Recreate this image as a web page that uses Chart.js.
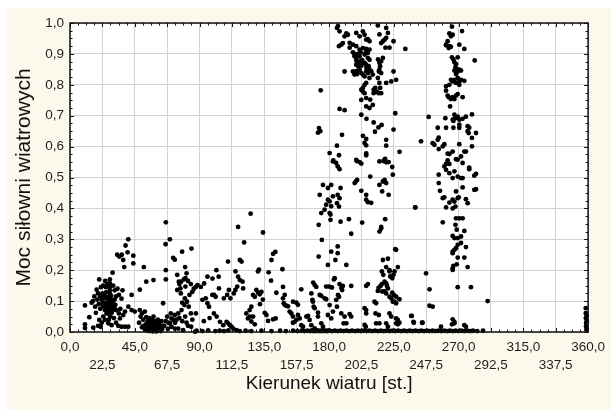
<!DOCTYPE html>
<html>
<head>
<meta charset="utf-8">
<script src="https://cdn.jsdelivr.net/npm/chart.js@4.4.1/dist/chart.umd.min.js"></script>
<style>
  html, body { margin: 0; padding: 0; background: #ffffff; }
  canvas { display: block; }
</style>
</head>
<body>
<canvas id="c" width="611" height="410"></canvas>
<script>
// ---- Data: [wind direction (deg), wind farm power (p.u.)] ----
const xTickValues = [0, 22.5, 45, 67.5, 90, 112.5, 135, 157.5, 180, 202.5, 225, 247.5, 270, 292.5, 315, 337.5, 360];
const yTickValues = [0, 0.1, 0.2, 0.3, 0.4, 0.5, 0.6, 0.7, 0.8, 0.9, 1.0];

const northEast = [
  [10.4,0.086],[10.4,0.025],[10.4,0.013],[13.4,0.048],[16.2,0.014],[16,0.100],[16.9,0.115],[18.5,0.137],[20.3,0.170],[23,0.150],
  [22,0.104],[22.7,0.093],[23.1,0.083],[24.3,0.071],[25.4,0.060],[27.7,0.170],[27.7,0.157],[27.7,0.146],[27.7,0.135],[27.7,0.124],
  [27.7,0.113],[27.7,0.103],[27.7,0.092],[27.7,0.081],[27.7,0.070],[25.4,0.113],[26.6,0.093],[28.9,0.082],[30,0.102],[30,0.071],
  [26.6,0.060],[23.1,0.050],[24.3,0.039],[29.6,0.192],[20.3,0.039],[21.3,0.017],[26.6,0.028],[28.9,0.022],[32.8,0.250],[34.2,0.244],
  [36,0.250],[37,0.233],[37.7,0.210],[40.5,0.300],[38.6,0.280],[40,0.258],[44,0.247],[44,0.222],[36.5,0.135],[35.8,0.108],
  [42.8,0.120],[40.5,0.082],[42.8,0.071],[45,0.066],[48.5,0.071],[52,0.066],[38.2,0.066],[37,0.055],[34.7,0.044],[35.8,0.017],
  [38.2,0.017],[40.5,0.017],[24,0.12],[25,0.128],[26,0.108],[28.5,0.118],[29,0.105],[29.5,0.094],[30.5,0.085],[31,0.078],
  [29,0.062],[31.5,0.088],[19,0.105],[20,0.09],[21,0.075],[18,0.062],[17.5,0.082],[15,0.095],[19.5,0.02],[22,0.03],
  [30.5,0.045],[32,0.03],[33.5,0.02],[33,0.14],[34,0.12],[31,0.135],[30,0.15],[26,0.155],[24.5,0.165],[21.5,0.145],
  [23.5,0.11],[24.5,0.095],[25.5,0.085],[26.5,0.075],[28,0.065],[29,0.075],[30,0.09],[31,0.105],[32,0.115],[28,0.05],
  [27,0.04],[25,0.145],[22.5,0.125],[21,0.115],[19.5,0.125],[32.5,0.07],[34,0.06],[35,0.075]
];

const east = [
  [48.5,0.137],[51.3,0.210],[53,0.163],[58,0.168],[50.8,0.04],[52.6,0.025],[54.2,0.017],[55.5,0.022],[57.1,0.013],[58.7,0.009],
  [60.5,0.005],[62.9,0.005],[64.7,0.093],[66.6,0.355],[66.4,0.284],[69.4,0.300],[66.6,0.200],[66.6,0.170],[71.7,0.240],[72.8,0.234],
  [77.9,0.260],[84.4,0.270],[80,0.210],[74.5,0.185],[75.6,0.163],[77.2,0.163],[79.1,0.170],[80.2,0.174],[80.2,0.147],[76.7,0.141],
  [74.5,0.136],[79.8,0.109],[81.3,0.098],[82.5,0.082],[79.5,0.087],[77.5,0.071],[75.2,0.060],[72.8,0.055],[70.5,0.044],[71.7,0.039],
  [69.4,0.028],[70.5,0.017],[72.8,0.011],[75.2,0.011],[78.6,0.006],[48,0.03],[49,0.05],[50,0.06],[53,0.048],[54,0.035],
  [55,0.045],[56,0.03],[57,0.04],[58,0.05],[59,0.035],[60,0.025],[61,0.015],[62,0.03],[63,0.02],[56,0.01],
  [58,0.02],[59.5,0.008],[61,0.04],[62,0.01],[64,0.01],[52,0.01],[55,0.003],[57.5,0.002],[60,0.002],[63,0.003],
  [65.5,0.02],[66.5,0.035],[67.5,0.05],[68.5,0.03],[70,0.06],[68,0.01],[73,0.03],[74,0.04],[76,0.045],[78,0.035],
  [80,0.05],[81,0.03],[82,0.02],[84,0.06],[85,0.04],[83,0.12],[85,0.13],[86,0.14],[84,0.155],[82,0.165],
  [81,0.19],[76,0.155],[77,0.125],[78,0.095],[51,0.02],[53,0.005],[54.5,0.025],[56.5,0.02],[58,0.03],[59,0.015],
  [61.5,0.025],[63.5,0.035],[64.5,0.02],[50,0.015],[57,0.005],[62,0.015]
];

const southEast = [
  [87.5,0.146],[88.6,0.152],[90.9,0.146],[93.2,0.157],[95.5,0.179],[99,0.173],[101.7,0.200],[103.3,0.179],[87.5,0.060],[84.2,0.017],
  [86.9,0.001],[92,0.104],[94.3,0.109],[95.5,0.093],[96.6,0.082],[98.9,0.120],[100.1,0.120],[101.2,0.114],[103.5,0.141],[106.9,0.109],
  [109.2,0.120],[110.4,0.136],[111.5,0.109],[113.8,0.125],[114.9,0.136],[116.2,0.147],[109.8,0.228],[115,0.196],[116.8,0.179],[118,0.168],
  [119.9,0.163],[120.3,0.141],[116.8,0.340],[118,0.233],[119.2,0.228],[121,0.290],[125.5,0.383],[101.9,0.050],[104.2,0.033],[106.5,0.022],
  [108.8,0.033],[109.9,0.028],[111.1,0.022],[112.2,0.017],[113.4,0.011],[115.7,0.006],[122.5,0.060],[123.6,0.044],[124.8,0.071],[126,0.082],
  [127.2,0.120],[129.5,0.136],[130.6,0.196],[131.3,0.202],[134.1,0.322],[141.1,0.253],[142.7,0.259],[140,0.233],
  [138,0.193],[147.6,0.203],[139.7,0.166],[143.4,0.127],[130.7,0.127],[131.8,0.122],[128.4,0.114],[125,0.050],[127.2,0.050],
  [128.4,0.025],[126,0.034],[135.3,0.062],[136.5,0.055],[137.6,0.036],[141.1,0.041],[142.9,0.044],[148,0.146],[149.2,0.120],[148,0.109],
  [148.5,0.093],[149.2,0.088],[150.3,0.085],[151.5,0.083],[152.6,0.066],[153.8,0.060],[154.9,0.050],[154.9,0.030],[156.1,0.033],[157.3,0.039],
  [158.4,0.055],[159.6,0.044],[160.7,0.022],[161.9,0.017],[164.2,0.050],[165.4,0.052],[166.5,0.039],[167.7,0.022],[170,0.012],[155,0.098],
  [157.3,0.095],[158.4,0.088],[160.7,0.138],[169,0.160],[170,0.152],[171.1,0.146],[167.7,0.125],[168.4,0.104],[169.3,0.082],[168.8,0.098],
  [170,0.077],[172.3,0.063],[93,0.035],[97,0.045],[100,0.06],[133,0.13],[134,0.105],[132,0.09]
];

const southLow = [
  [178,0.147],[180,0.147],[182,0.144],[173.5,0.120],[174.6,0.117],[176.9,0.109],[178,0.106],[180.4,0.087],[182.7,0.066],[179.2,0.055],
  [181.5,0.044],[172.3,0.050],[174.6,0.028],[175.8,0.017],[183.4,0.170],[187.3,0.155],[188.5,0.142],[189.6,0.149],[189.1,0.136],[186.2,0.120],
  [186.9,0.114],[185,0.104],[185.5,0.082],[188.5,0.060],[190.8,0.050],[190.1,0.028],[192,0.028],[194.3,0.058],[195.4,0.050],[195.4,0.149],
  [204.7,0.077],[205.8,0.071],[205.8,0.060],[204.7,0.023],[205.5,0.017],[205.8,0.149],[207,0.155],[211.6,0.098],[212.7,0.093],[212.3,0.060],
  [214.6,0.055],[215,0.028],[212.7,0.028],[214.4,0.143],[215.8,0.149],[216.7,0.155],[218.6,0.163],[219.7,0.157],[220.2,0.149],[220.9,0.141],
  [218.6,0.131],[216.9,0.131],[213.9,0.133],[219.7,0.125],[222,0.114],[223.2,0.109],[224.3,0.098],[225.5,0.098],[226.6,0.093],[226.6,0.114],
  [225,0.120],[223.9,0.127],[222.5,0.180],[223.9,0.174],[224.8,0.185],[225.5,0.196],[222,0.200],[217.7,0.185],[226.6,0.266],[220.9,0.237],
  [217.4,0.233],[219.7,0.210],[227.8,0.210],[216.7,0.196],[222,0.196],[222,0.060],[223.2,0.050],[219.7,0.028],[220.9,0.017],[226.6,0.044],
  [227.8,0.039],[226.6,0.028],[227.8,0.025],[237.5,0.052],[238.9,0.030],[245,0.030],[247.4,0.190],[249.8,0.138],[249.8,0.085],[252,0.082],
  [257.8,0.017],[239.8,0.403]
];

const southMid = [
  [182.7,0.552],[186,0.536],[187.3,0.527],[173.5,0.444],[175.8,0.476],[179.2,0.466],[181.5,0.476],[179.2,0.428],[180.4,0.423],[182.7,0.439],
  [181.5,0.407],[178,0.412],[176.9,0.396],[180.4,0.385],[174.6,0.385],[186,0.444],[187.3,0.433],[185.5,0.417],[186.9,0.406],[188,0.466],
  [172.8,0.347],[175,0.298],[181,0.363],[181,0.380],[188,0.357],[193.8,0.365],[195.4,0.318],[172.8,0.244],[181.5,0.260],[186,0.277],
  [186,0.255],[184.4,0.233],[179.2,0.217],[192,0.217],[183.9,0.174],[198.6,0.487],[199.5,0.492],[197.8,0.482],[202.4,0.457],[203,0.354],
  [205.8,0.444],[205.8,0.428],[207,0.420],[209.3,0.418],[198.9,0.557],[202.4,0.545],[208.6,0.503],[215,0.476],[217.4,0.487],[219.7,0.482],
  [218.6,0.492],[221.4,0.444],[216.9,0.455],[215,0.552],[218.6,0.558],[219.7,0.549],[223.9,0.534],[224.3,0.509],[216.2,0.340],[215,0.325],
  [216.2,0.335],[219,0.365],[226,0.268],[174.2,0.782],[187.3,0.722],[190.8,0.718],[202.4,0.703],[206,0.690],[211,0.678],[226,0.708],
  [173,0.660],[173.9,0.650],[172.3,0.645],[189,0.638],[216.5,0.670],[214.3,0.662],[211.9,0.648],[224.8,0.655],[203.5,0.635],[205.8,0.625],
  [204.7,0.612],[205.8,0.604],[205.8,0.578],[205.8,0.572],[219.7,0.622],[219.7,0.603],[185.5,0.603],[180.4,0.579],[186.9,0.572],[229,0.583],
  [183,0.555],[184.9,0.547],[199.3,0.553],[201.2,0.550],[219,0.560],[217.8,0.553],[221.4,0.550],[210.4,0.735],[208.1,0.725],
  [205.8,0.730]
];

const southHigh = [
  [185.5,0.984],[187.3,0.973],[186.2,0.990],[192,0.966],[190.8,0.957],[193.1,0.962],[188.5,0.930],[186.9,0.925],[189.6,0.935],[194.3,0.920],
  [196.6,0.905],[197.7,0.899],[198.9,0.968],[201.2,0.957],[203.5,0.973],[204.7,0.962],[205.8,0.946],[207,0.948],[208.1,0.941],[213.9,0.992],
  [215,0.963],[219.7,0.984],[220.9,0.968],[217.4,0.941],[218.6,0.946],[216.2,0.935],[219.7,0.952],[219.2,0.920],[222,0.920],[224.8,0.941],
  [194.3,0.936],[196.6,0.930],[198.9,0.925],[201.2,0.914],[203.5,0.919],[205.8,0.916],[208.1,0.914],[206.9,0.903],[204.7,0.898],[201.2,0.892],
  [198.9,0.887],[197.7,0.892],[205.8,0.908],[206.9,0.887],[208.1,0.881],[201.2,0.876],[203.5,0.871],[204.7,0.871],[205.8,0.865],[198.9,0.865],
  [200.1,0.860],[201.2,0.849],[198.9,0.844],[197.7,0.838],[196.6,0.843],[197.7,0.833],[202.4,0.838],[203.5,0.833],[204.7,0.827],[207,0.838],
  [205.8,0.844],[208.1,0.849],[214,0.882],[215,0.871],[216.2,0.876],[217.4,0.887],[215.5,0.860],[215,0.849],[190.8,0.843],[214.6,0.843],
  [216.2,0.838],[213.9,0.822],[215,0.806],[215.5,0.790],[216.2,0.773],[209.3,0.844],[210.4,0.833],[208.1,0.822],[204.7,0.800],[205.8,0.806],
  [203.5,0.790],[224.8,0.843],[219.7,0.806],[223.2,0.811],[226.6,0.816],[233,0.916],[202.4,0.784],[203.5,0.778],[204.7,0.773],[202.4,0.751],
  [205.8,0.757],[208.6,0.752],[211,0.784],[212.1,0.790],[213.3,0.778],[214.4,0.773],[211,0.773],[199,0.878],[200,0.900],[202,0.905],
  [203,0.880],[200,0.870],[202.5,0.862],[199.5,0.835],[206,0.855],[207.5,0.860]
];

const west = [
  [265.4,0.988],[272.4,0.974],[263.6,0.966],[264.7,0.957],[265.9,0.962],[261.3,0.930],[262.4,0.941],[263.6,0.925],[263.1,0.919],
  [264.7,0.923],[261.3,0.928],[270.5,0.930],[274,0.916],[281.2,0.879],[265.4,0.889],[266.4,0.882],[267.1,0.873],[269.4,0.889],[268.2,0.867],
  [267.8,0.857],[268.7,0.851],[267.1,0.846],[269.4,0.843],[270.5,0.849],[268.2,0.835],[271.7,0.846],[269.4,0.822],[265.9,0.811],[267.1,0.816],
  [268.2,0.806],[270.5,0.811],[271.7,0.816],[274,0.813],[264.7,0.816],[263.6,0.800],[270.5,0.800],[261.3,0.795],[261.3,0.781],[262.4,0.765],
  [263.1,0.760],[264.7,0.754],[265.9,0.760],[267.1,0.754],[268.2,0.765],[269.4,0.770],[272.8,0.760],[264.1,0.730],[249.2,0.696],[260.8,0.692],
  [265.9,0.687],[267.1,0.703],[267.8,0.692],[269.4,0.697],[270.5,0.687],[272.8,0.690],[275.1,0.697],[279.3,0.704],[266.4,0.683],[255.5,0.661],
  [261.3,0.661],[266.4,0.661],[270.5,0.671],[270.5,0.661],[276.3,0.666],[277.4,0.661],[276.3,0.650],[277,0.644],[282.1,0.644],[256.2,0.629],
  [255.5,0.622],[252,0.611],[253.2,0.606],[256.2,0.592],[243.9,0.617],[260.1,0.608],[259,0.601],[270.5,0.608],[279.3,0.628],[279.3,0.601],
  [262.4,0.577],[263.6,0.576],[265.9,0.584],[268.2,0.559],[271.7,0.568],[274,0.584],[275.1,0.584],[272.8,0.547],[277.4,0.532],[261.3,0.544],
  [262.4,0.555],[263.6,0.544],[260.1,0.536],[261.3,0.525],[263.6,0.514],[267.1,0.520],[269.4,0.558],[265.9,0.498],[269.4,0.503],
  [271.7,0.498],[272.8,0.498],[277.4,0.527],[280.9,0.506],[282.1,0.512],[256.2,0.509],[256.2,0.482],[257.1,0.457],[259,0.433],[260.1,0.436],
  [263.6,0.419],[265.9,0.428],[267.1,0.422],[269.4,0.433],[270.1,0.436],[272.8,0.468],[275.1,0.430],[276.3,0.417],[280.9,0.460],[282.1,0.462],
  [268.2,0.455],[261.3,0.403],[265.9,0.400],[267.8,0.406],[240,0.403],[259,0.355],[268.2,0.368],[270.5,0.368],[272.8,0.368],
  [267.8,0.347],[268.7,0.331],[274,0.327],[265.9,0.311],[267.1,0.304],[269.4,0.304],[271.7,0.309],[269.4,0.282],[271.7,0.288],[275.1,0.275],
  [267.1,0.266],[265.9,0.260],[268.2,0.271],[265.9,0.255],[269.4,0.241],[274,0.241],[266.4,0.214],[265.9,0.206],[265.9,0.201],[268.7,0.219],
  [276.3,0.210],[269.4,0.145],[278.6,0.145],[290.2,0.100],[237,0.052],[238.6,0.033],[244.6,0.030],[228.9,0.106],[228.9,0.030],
  [265.9,0.041],[267.1,0.028],[265.4,0.025],[267.1,0.033],[274,0.022],[275.1,0.017]
];

const northEdge = [
  [358.4,0.077],[358.4,0.061],[358.4,0.045],[358.6,0.029],[358.6,0.018],[358.8,0.008],[359,0.052],[359,0.035]
];

const calmBase = [
  [88,0.004],[92,0.003],[96,0.005],[101,0.003],[104,0.004],[107,0.003],[110,0.005],[118,0.003],[122,0.004],[126,0.003],
  [133,0.004],[140,0.003],[146,0.004],[150,0.003],[155,0.004],[158,0.003],[161,0.004],[163,0.003],[165,0.004],[167,0.003],
  [168,0.005],[169,0.003],[170,0.004],[171,0.003],[172,0.005],[173,0.003],[174,0.004],[175,0.003],[176,0.005],[177,0.003],
  [178,0.004],[179,0.003],[180,0.005],[182,0.003],[184,0.004],[186,0.003],[188,0.004],[190,0.003],[192,0.004],[194,0.003],
  [196,0.004],[198,0.003],[200,0.004],[202,0.003],[204,0.004],[206,0.003],[208,0.004],[210,0.003],[212,0.004],[214,0.003],
  [216,0.004],[218,0.003],[220,0.004],[222,0.003],[224,0.004],[226,0.003],[228,0.004],[230,0.003],[232,0.004],[234,0.003],
  [236,0.004],[238,0.003],[240,0.004],[242,0.003],[244,0.004],[246,0.003],[248,0.004],[250,0.003],[252,0.004],[254,0.003],
  [256,0.004],[258,0.003],[260,0.004],[262,0.003],[264,0.004],[266,0.003],[268,0.004],[270,0.003],[272,0.004],[274,0.003],
  [276,0.004],[278,0.003],[280,0.004],[283,0.003],[287,0.004]
];

const allGroups = [northEast, east, southEast, southLow, southMid, southHigh, west, northEdge, calmBase];
const points = [].concat(...allGroups).map(([x, y]) => ({ x, y }));

const fmt = v => Number(v).toFixed(1).replace('.', ',');
const FONT = 'Liberation Sans, Arial, sans-serif';

const framePlugin = {
  id: 'frame',
  beforeDraw(chart) {
    const { ctx, width, height, chartArea: a } = chart;
    ctx.save();
    ctx.fillStyle = '#ffffff';
    ctx.fillRect(0, 0, width, height);
    ctx.fillStyle = '#fdf8ec';
    ctx.fillRect(7, 8, width - 7, height - 8);
    ctx.fillStyle = '#ffffff';
    ctx.fillRect(a.left, a.top, a.right - a.left, a.bottom - a.top);
    ctx.restore();
  },
  afterDraw(chart) {
    const { ctx, chartArea: a, scales } = chart;
    const xs = scales.x, ys = scales.y;
    ctx.save();
    ctx.strokeStyle = '#111111';
    ctx.lineWidth = 1;
    for (let i = 0; i <= 64; i++) {
      const v = i * 5.625;
      const px = Math.round(xs.getPixelForValue(v)) + 0.5;
      const len = (i % 4 === 0) ? 4 : 2.5;
      ctx.beginPath();
      ctx.moveTo(px, a.top); ctx.lineTo(px, a.top + len);
      ctx.moveTo(px, a.bottom); ctx.lineTo(px, a.bottom - len);
      ctx.stroke();
    }
    for (let i = 0; i <= 40; i++) {
      const v = i * 0.025;
      const py = Math.round(ys.getPixelForValue(v)) + 0.5;
      const len = (i % 4 === 0) ? 4 : 2.5;
      ctx.beginPath();
      ctx.moveTo(a.left, py); ctx.lineTo(a.left + len, py);
      ctx.moveTo(a.right, py); ctx.lineTo(a.right - len, py);
      ctx.stroke();
    }
    ctx.lineWidth = 1.5;
    ctx.strokeRect(a.left, a.top, a.right - a.left, a.bottom - a.top);
    ctx.restore();
  }
};

new Chart(document.getElementById('c'), {
  type: 'scatter',
  data: {
    datasets: [{
      data: points,
      backgroundColor: '#000000',
      borderColor: '#000000',
      borderWidth: 0,
      pointRadius: 2.4,
      pointHoverRadius: 2.4,
      clip: false
    }]
  },
  options: {
    responsive: false,
    animation: false,
    events: [],
    layout: { padding: { top: 23, right: 22, left: 0, bottom: 0 } },
    plugins: { legend: { display: false }, tooltip: { enabled: false } },
    scales: {
      x: {
        type: 'linear',
        min: 0, max: 360,
        afterBuildTicks(scale) { scale.ticks = xTickValues.map(v => ({ value: v })); },
        afterFit(scale) { scale.height = 78; },
        grid: { color: '#d2d2d2', lineWidth: 1, borderDash: [1, 1], drawTicks: false },
        border: { display: false },
        ticks: {
          autoSkip: false, maxRotation: 0, minRotation: 0,
          padding: 6,
          color: '#1e1e1e',
          font: { family: FONT, size: 13.5, lineHeight: '18px' },
          callback(value, index) {
            return index % 2 === 0 ? fmt(value) : ['', fmt(value)];
          }
        },
        title: {
          display: true, text: 'Kierunek wiatru [st.]',
          color: '#111111',
          font: { family: FONT, size: 19, lineHeight: 1.2 },
          padding: { top: 0, bottom: 15 }
        }
      },
      y: {
        type: 'linear',
        min: 0, max: 1,
        afterBuildTicks(scale) { scale.ticks = yTickValues.map(v => ({ value: v })); },
        afterFit(scale) { scale.width = 70; },
        grid: { color: '#d2d2d2', lineWidth: 1, borderDash: [1, 1], drawTicks: false },
        border: { display: false },
        ticks: {
          padding: 6,
          color: '#1e1e1e',
          font: { family: FONT, size: 13.5 },
          callback(value) { return fmt(value); }
        },
        title: {
          display: true, text: 'Moc siłowni wiatrowych',
          color: '#111111',
          font: { family: FONT, size: 21, lineHeight: 1.2 },
          padding: { top: 12, bottom: 0 }
        }
      }
    }
  },
  plugins: [framePlugin]
});
</script>
</body>
</html>
